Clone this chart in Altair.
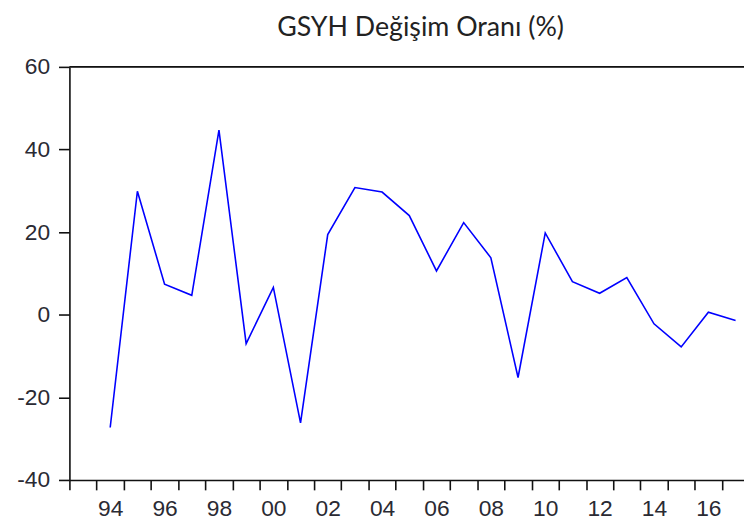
import altair as alt
import pandas as pd

years = list(range(1994, 2018))
values = [-27.3, 29.9, 7.4, 4.7, 44.7, -7.0, 6.6, -26.2, 19.4, 30.8, 29.7, 24.0,
          10.6, 22.3, 13.8, -15.2, 19.8, 8.0, 5.2, 9.0, -2.2, -7.8, 0.6, -1.4]
tick_years = list(range(1993, 2018))
y_ticks = [-40, -20, 0, 20, 40, 60]

df = pd.DataFrame({"year": years, "value": values})
df["t"] = df["year"] + 0.5

W = 681
H = 417
x_dom = [1993, 2017.81]

xscale = alt.Scale(domain=x_dom, nice=False, zero=False)
yscale = alt.Scale(domain=[-40, 60], nice=False, zero=False)

line = alt.Chart(df).mark_line(color="#0000ff", strokeWidth=1.6, clip=True).encode(
    x=alt.X("t:Q", scale=xscale, title=None,
            axis=alt.Axis(values=tick_years, grid=False, tickSize=10, tickWidth=1.6,
                          tickColor="#111", domainColor="#111", domainWidth=1.6,
                          labelFontSize=23, labelFont="Liberation Sans", labelColor="#2a2a33",
                          labelOffset=13.7, labelPadding=8, labelFlush=False, labelOverlap=False,
                          labelExpr="datum.value % 2 == 0 ? substring(toString(datum.value), 2, 4) : ''")),
    y=alt.Y("value:Q", scale=yscale, title=None,
            axis=alt.Axis(values=y_ticks, grid=False, tickSize=11, tickWidth=1.6,
                          tickColor="#111", domainColor="#111", domainWidth=1.6,
                          labelFontSize=23, labelFont="Liberation Sans", labelColor="#2a2a33",
                          labelPadding=9, labelExpr="toString(datum.value)")),
)

top = alt.Chart(pd.DataFrame({"v": [60]})).mark_rule(color="#111", strokeWidth=1.6).encode(
    y=alt.Y("v:Q", scale=yscale),
    x=alt.value(0),
    x2=alt.value(W),
)

chart = alt.layer(line, top).properties(
    width=W, height=H,
    autosize=alt.AutoSizeParams(type="none"),
    padding={"left": 62, "top": 57, "right": 0, "bottom": 40},
    title=alt.TitleParams("GSYH Değişim Oranı (%)", font="Lato", fontSize=27,
                          fontWeight="normal", color="#222", anchor="middle",
                          dx=14, offset=14),
).configure_view(stroke=None).configure(background="white")

chart.save("out.html", embed_options={"renderer": "svg", "actions": False})
